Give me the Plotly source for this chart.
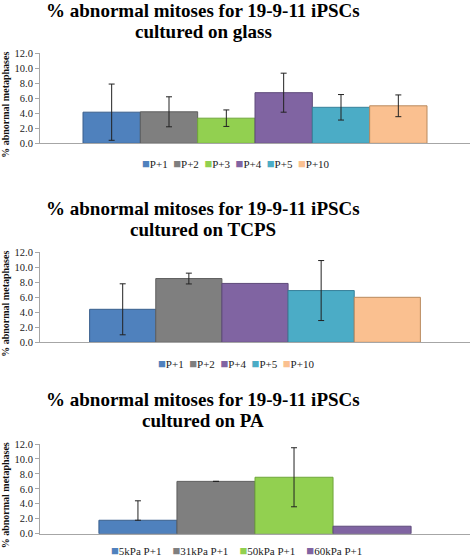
import plotly.graph_objects as go

# ---------------- data ----------------
glass_series = ["P+1", "P+2", "P+3", "P+4", "P+5", "P+10"]
glass_values = [4.15, 4.2, 3.35, 6.75, 4.8, 5.0]
glass_err = [3.75, 2.0, 1.1, 2.6, 1.7, 1.45]

tcps_series = ["P+1", "P+2", "P+4", "P+5", "P+10"]
tcps_values = [4.4, 8.5, 7.85, 6.9, 6.0]
tcps_err = [3.4, 0.72, None, 4.0, None]

pa_series = ["5kPa P+1", "31kPa P+1", "50kPa P+1", "60kPa P+1"]
pa_values = [1.8, 7.0, 7.55, 1.0]
pa_err_plus = [2.6, 0.0, 3.95, None]
pa_err_minus = [0.0, 0.0, 3.95, None]

titles = [
    ("% abnormal mitoses for 19-9-11 iPSCs", "cultured on glass"),
    ("% abnormal mitoses for 19-9-11 iPSCs", "cultured on TCPS"),
    ("% abnormal mitoses for 19-9-11 iPSCs", "cultured on PA"),
]
y_title = "% abnormal metaphases"
y_ticks = [0, 2, 4, 6, 8, 10, 12]

# ---------------- styles ----------------
FILL = {
    "blue": "#4F81BD", "grey": "#7F7F7F", "green": "#92D050",
    "purple": "#8064A2", "teal": "#4BACC6", "peach": "#FAC090",
}
EDGE = {
    "blue": "#3A5F8C", "grey": "#5E5E5E", "green": "#6FA63A",
    "purple": "#5E4A7A", "teal": "#37819A", "peach": "#B98A5E",
}
glass_colors = ["blue", "grey", "green", "purple", "teal", "peach"]
tcps_colors = ["blue", "grey", "purple", "teal", "peach"]
pa_colors = ["blue", "grey", "green", "purple"]

FONT = '"Liberation Serif", "Times New Roman", "DejaVu Serif", serif'
W, H = 472, 559
AXC = "#A6A6A6"


def px(x):
    return x / W


def py(y):
    return 1 - y / H


fig = go.Figure()

panels = [
    dict(series=glass_series, values=glass_values, ep=glass_err, em=glass_err,
         colors=glass_colors, top=53.3, bottom=143.3, half=0.5,
         t1=10, t2=31, leg=164, gap=2),
    dict(series=tcps_series, values=tcps_values, ep=tcps_err, em=tcps_err,
         colors=tcps_colors, top=252.3, bottom=342.3, half=0.52,
         t1=208, t2=229, leg=363, gap=2),
    dict(series=pa_series, values=pa_values, ep=pa_err_plus, em=pa_err_minus,
         colors=pa_colors, top=444, bottom=533.7, half=0.551,
         t1=399, t2=420.5, leg=550, gap=4),
]

annotations = []
for i, p in enumerate(panels):
    ax = "" if i == 0 else str(i + 1)
    for name, val, ep, em, c in zip(p["series"], p["values"], p["ep"], p["em"], p["colors"]):
        err = dict(visible=False)
        if ep is not None:
            err = dict(type="data", symmetric=False, array=[ep], arrayminus=[em],
                       color="#222222", thickness=1, width=3, visible=True)
        fig.add_trace(go.Bar(
            x=["s"], y=[val], name=name, showlegend=False,
            marker=dict(color=FILL[c], line=dict(color=EDGE[c], width=1)),
            error_y=err, xaxis="x" + ax, yaxis="y" + ax,
        ))
    fig.update_layout(**{
        "xaxis" + ax: dict(domain=[px(40), px(470)], anchor="y" + ax,
                           range=[-p["half"], p["half"]], showticklabels=False,
                           showline=True, linecolor=AXC, linewidth=1, ticks="",
                           showgrid=False, zeroline=False, fixedrange=True,
                           automargin=False),
        "yaxis" + ax: dict(domain=[py(p["bottom"]), py(p["top"])], anchor="x" + ax,
                           range=[0, 12], tickvals=y_ticks, tickformat=".1f",
                           showline=True, linecolor=AXC, linewidth=1,
                           ticks="outside", ticklen=4, tickcolor=AXC,
                           showgrid=False, zeroline=False, automargin=False,
                           tickfont=dict(family=FONT, size=10.5, color="#222"),
                           fixedrange=True),
    })
    # titles
    for txt, yy in zip(titles[i], (p["t1"], p["t2"])):
        annotations.append(dict(
            text="<b>%s</b>" % txt, x=px(203), y=py(yy), xref="paper", yref="paper",
            xanchor="center", yanchor="middle", showarrow=False,
            font=dict(family=FONT, size=19, color="#000")))
    # y-axis title
    annotations.append(dict(
        text="<b>%s</b>" % y_title, x=px(5.5), y=py((p["top"] + p["bottom"]) / 2 + 7),
        xref="paper", yref="paper", xanchor="center", yanchor="middle",
        textangle=-90, showarrow=False,
        font=dict(family=FONT, size=10, color="#111")))
    # legend (built from series names and colors)
    parts = []
    for name, c in zip(p["series"], p["colors"]):
        parts.append('<span style="color:%s;font-size:13px">■</span>%s' % (FILL[c], name))
    annotations.append(dict(
        text=("&nbsp;" * p["gap"]).join(parts), x=px(236), y=py(p["leg"]),
        xref="paper", yref="paper", xanchor="center", yanchor="middle",
        showarrow=False, font=dict(family=FONT, size=11, color="#222")))

fig.update_layout(
    template="none",
    width=W, height=H, margin=dict(l=0, r=0, t=0, b=0),
    paper_bgcolor="white", plot_bgcolor="white",
    barmode="group", bargap=0.2, bargroupgap=0,
    annotations=annotations, showlegend=False,
    font=dict(family=FONT),
)

fig.write_html(
    "out.html",
    config={"displayModeBar": False, "staticPlot": True},
    post_script="document.body.style.margin='0';document.body.style.overflow='hidden';",
)
